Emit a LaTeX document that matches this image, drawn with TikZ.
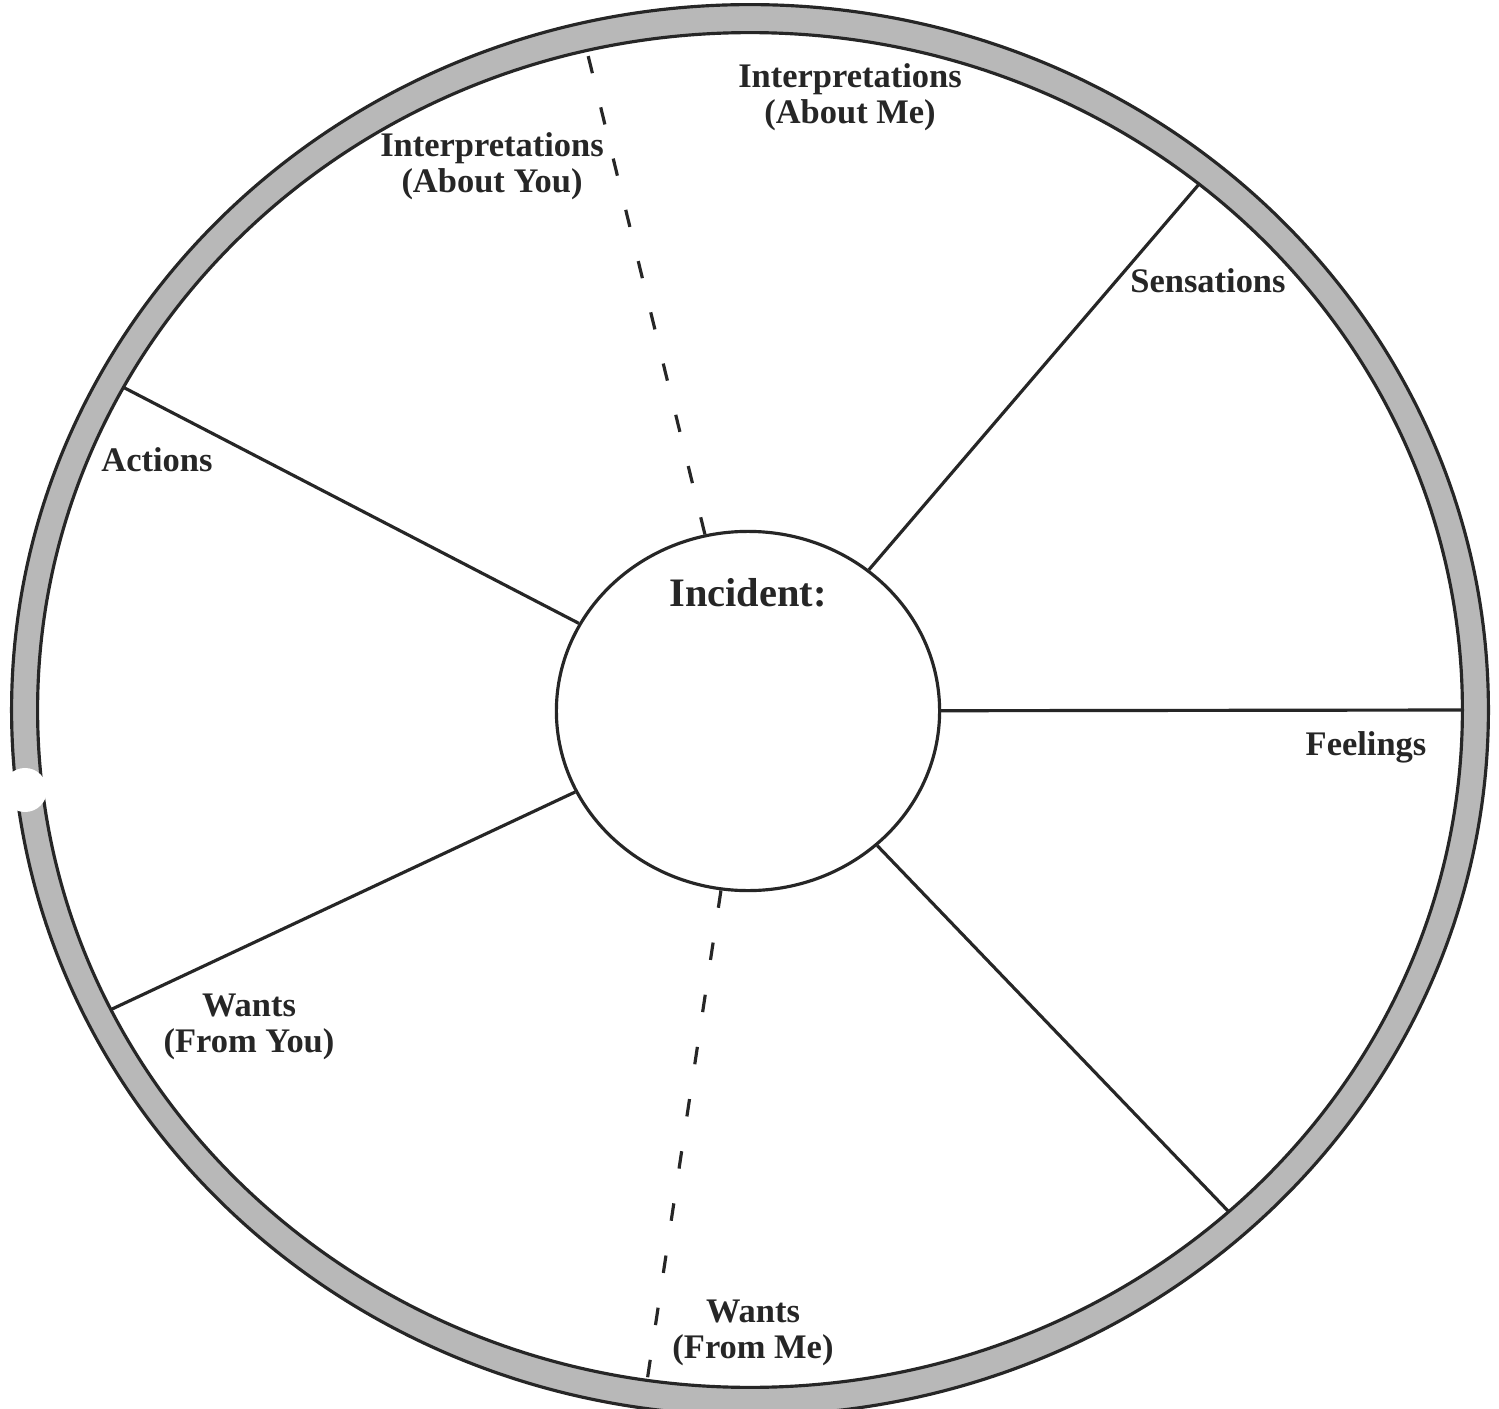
\documentclass[tikz,border=0pt]{standalone}
\usepackage{fontspec}
\setmainfont{Liberation Serif}
\usetikzlibrary{shapes.geometric}

\begin{document}
\begin{tikzpicture}[x=0.01cm, y=-0.01cm,
  sector/.style={font=\bfseries\fontsize{9.8}{10.4}\selectfont, align=center, text=black!85},
  spoke/.style={draw=black!85, line width=0.9pt},
  divider/.style={draw=black!85, line width=0.9pt, dash pattern=on 5pt off 10pt},
  rim/.style={draw=black!85, line width=0.9pt, fill=black!28, even odd rule}]
\useasboundingbox (0,0) rectangle (1499,1409);
\fill[white] (0,0) rectangle (1499,1409);

% ends of the spokes, on the rim
\coordinate (actions_end) at (117,384);
\coordinate (wants_you_end) at (110,1010);
\coordinate (sensations_end) at (1200,183);
\coordinate (feelings_end) at (1464,710);
\coordinate (lower_end) at (1230,1213);
\coordinate (top_end) at (586,47);
\coordinate (bottom_end) at (646,1388);

\node[draw=black!85, line width=0.9pt, ellipse, fill=white, minimum width=3.83cm, minimum height=3.59cm, inner sep=0pt] (incident) at (748,711) {};
\node[font=\bfseries\fontsize{11.5}{13}\selectfont, text=black!85] (incident_title) at (748,593) {Incident:};

\draw[spoke] (incident) -- (actions_end);
\draw[spoke] (incident) -- (wants_you_end);
\draw[spoke] (incident) -- (sensations_end);
\draw[spoke] (incident) -- (feelings_end);
\draw[spoke] (incident) -- (lower_end);
\draw[divider] (incident) -- (top_end);
\draw[divider] (incident) -- (bottom_end);

% rim
\draw[rim] (750,710) ellipse [x radius=7.38cm, y radius=7.05cm] (750,710) ellipse [x radius=7.12cm, y radius=6.77cm];
\fill[white] (25,790) circle [radius=0.22cm];

\node[sector] (int_me) at (850,97) {Interpretations\\(About Me)};
\node[sector] (int_you) at (492,166) {Interpretations\\(About You)};
\node[sector] (sensations) at (1208,281) {Sensations};
\node[sector] (actions) at (157,460) {Actions};
\node[sector] (feelings) at (1366,747) {Feelings};
\node[sector] (wants_you) at (249,1027) {Wants\\(From You)};
\node[sector] (wants_me) at (753,1333) {Wants\\(From Me)};
\end{tikzpicture}
\end{document}
